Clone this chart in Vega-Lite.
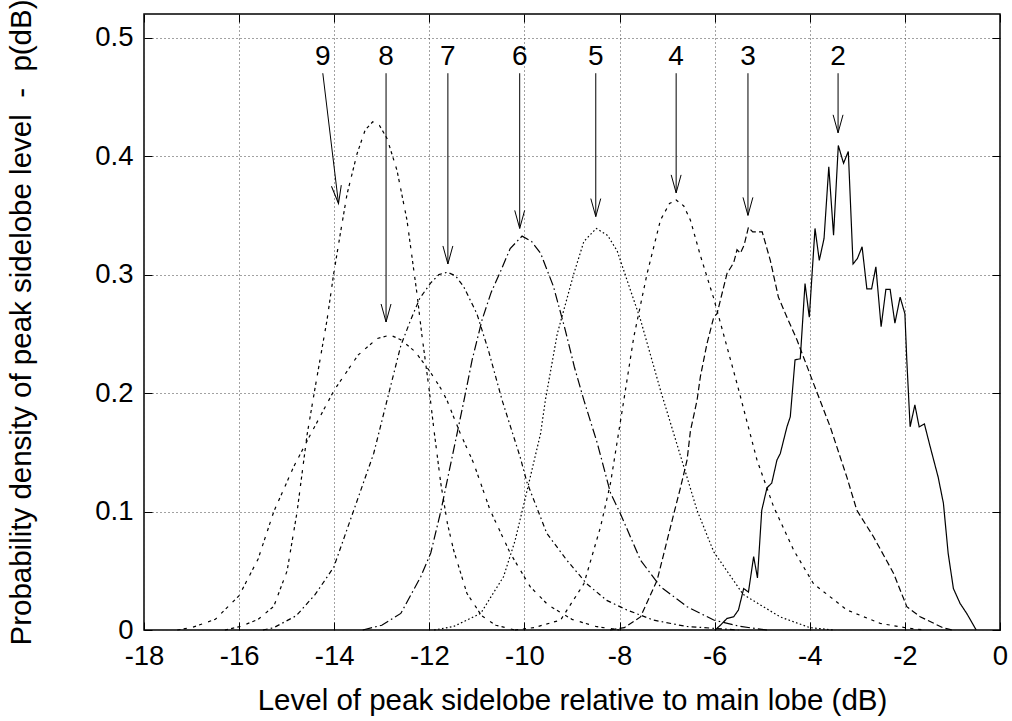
{
  "$schema": "https://vega.github.io/schema/vega-lite/v6.json",
  "autosize": "none",
  "width": 856,
  "height": 616,
  "padding": {"top": 14, "left": 144, "right": 12, "bottom": 91},
  "background": "white",
  "config": {
    "view": {"stroke": "black", "strokeWidth": 1.5},
    "font": "Liberation Sans",
    "axis": {
      "labelFont": "Liberation Sans",
      "labelFontSize": 27.5,
      "labelColor": "black",
      "labelFlush": false,
      "titleFont": "Liberation Sans",
      "titleFontSize": 29.5,
      "titleFontWeight": "normal",
      "titleColor": "black",
      "domain": false,
      "tickColor": "black",
      "tickSize": -8,
      "tickWidth": 1,
      "gridColor": "#444",
      "gridDash": [1, 3],
      "gridWidth": 1
    }
  },
  "datasets": {
    "curves": [
      {"c": "9", "x": -16.3, "y": 0}, {"c": "9", "x": -15.97, "y": 0.003}, {"c": "9", "x": -15.6, "y": 0.009}, {"c": "9", "x": -15.27, "y": 0.02}, {"c": "9", "x": -14.99, "y": 0.05}, {"c": "9", "x": -14.78, "y": 0.1}, {"c": "9", "x": -14.57, "y": 0.165}, {"c": "9", "x": -14.4, "y": 0.205}, {"c": "9", "x": -14.15, "y": 0.262}, {"c": "9", "x": -14.01, "y": 0.301}, {"c": "9", "x": -13.87, "y": 0.335}, {"c": "9", "x": -13.73, "y": 0.368}, {"c": "9", "x": -13.52, "y": 0.402}, {"c": "9", "x": -13.35, "y": 0.422}, {"c": "9", "x": -13.19, "y": 0.429}, {"c": "9", "x": -13.05, "y": 0.426}, {"c": "9", "x": -12.89, "y": 0.415}, {"c": "9", "x": -12.68, "y": 0.388}, {"c": "9", "x": -12.47, "y": 0.346}, {"c": "9", "x": -12.26, "y": 0.284}, {"c": "9", "x": -12.16, "y": 0.25}, {"c": "9", "x": -12.01, "y": 0.205}, {"c": "9", "x": -11.9, "y": 0.168}, {"c": "9", "x": -11.76, "y": 0.124}, {"c": "9", "x": -11.62, "y": 0.09}, {"c": "9", "x": -11.49, "y": 0.0675}, {"c": "9", "x": -11.21, "y": 0.031}, {"c": "9", "x": -10.9, "y": 0.012}, {"c": "9", "x": -10.6, "y": 0.004}, {"c": "9", "x": -10.2, "y": 0},

      {"c": "8", "x": -17.3, "y": 0}, {"c": "8", "x": -17.0, "y": 0.002}, {"c": "8", "x": -16.5, "y": 0.009}, {"c": "8", "x": -16.0, "y": 0.029}, {"c": "8", "x": -15.6, "y": 0.06}, {"c": "8", "x": -15.27, "y": 0.1}, {"c": "8", "x": -14.85, "y": 0.138}, {"c": "8", "x": -14.5, "y": 0.165}, {"c": "8", "x": -14.0, "y": 0.2025}, {"c": "8", "x": -13.5, "y": 0.232}, {"c": "8", "x": -13.1, "y": 0.246}, {"c": "8", "x": -12.82, "y": 0.249}, {"c": "8", "x": -12.6, "y": 0.245}, {"c": "8", "x": -12.3, "y": 0.235}, {"c": "8", "x": -12.0, "y": 0.219}, {"c": "8", "x": -11.76, "y": 0.204}, {"c": "8", "x": -11.63, "y": 0.194}, {"c": "8", "x": -11.35, "y": 0.166}, {"c": "8", "x": -11.07, "y": 0.141}, {"c": "8", "x": -10.72, "y": 0.101}, {"c": "8", "x": -10.3, "y": 0.065}, {"c": "8", "x": -9.88, "y": 0.0366}, {"c": "8", "x": -9.5, "y": 0.021}, {"c": "8", "x": -9.0, "y": 0.009}, {"c": "8", "x": -8.5, "y": 0.003}, {"c": "8", "x": -8.0, "y": 0},

      {"c": "7", "x": -15.5, "y": 0}, {"c": "7", "x": -15.27, "y": 0.002}, {"c": "7", "x": -14.8, "y": 0.012}, {"c": "7", "x": -14.4, "y": 0.03}, {"c": "7", "x": -14.01, "y": 0.053}, {"c": "7", "x": -13.59, "y": 0.101}, {"c": "7", "x": -13.17, "y": 0.149}, {"c": "7", "x": -12.82, "y": 0.205}, {"c": "7", "x": -12.6, "y": 0.24}, {"c": "7", "x": -12.39, "y": 0.262}, {"c": "7", "x": -12.2, "y": 0.28}, {"c": "7", "x": -11.97, "y": 0.293}, {"c": "7", "x": -11.8, "y": 0.3}, {"c": "7", "x": -11.62, "y": 0.302}, {"c": "7", "x": -11.45, "y": 0.299}, {"c": "7", "x": -11.28, "y": 0.29}, {"c": "7", "x": -11.0, "y": 0.267}, {"c": "7", "x": -10.75, "y": 0.235}, {"c": "7", "x": -10.47, "y": 0.194}, {"c": "7", "x": -10.09, "y": 0.146}, {"c": "7", "x": -9.95, "y": 0.125}, {"c": "7", "x": -9.53, "y": 0.0816}, {"c": "7", "x": -9.11, "y": 0.059}, {"c": "7", "x": -8.69, "y": 0.039}, {"c": "7", "x": -8.27, "y": 0.025}, {"c": "7", "x": -7.85, "y": 0.017}, {"c": "7", "x": -7.29, "y": 0.0084}, {"c": "7", "x": -6.6, "y": 0.003}, {"c": "7", "x": -5.5, "y": 0},

      {"c": "6", "x": -13.4, "y": 0}, {"c": "6", "x": -13.0, "y": 0.004}, {"c": "6", "x": -12.6, "y": 0.014}, {"c": "6", "x": -12.18, "y": 0.045}, {"c": "6", "x": -11.97, "y": 0.065}, {"c": "6", "x": -11.76, "y": 0.1}, {"c": "6", "x": -11.5, "y": 0.15}, {"c": "6", "x": -11.27, "y": 0.194}, {"c": "6", "x": -11.1, "y": 0.228}, {"c": "6", "x": -10.89, "y": 0.262}, {"c": "6", "x": -10.7, "y": 0.285}, {"c": "6", "x": -10.5, "y": 0.303}, {"c": "6", "x": -10.3, "y": 0.322}, {"c": "6", "x": -10.05, "y": 0.3325}, {"c": "6", "x": -9.85, "y": 0.328}, {"c": "6", "x": -9.66, "y": 0.318}, {"c": "6", "x": -9.39, "y": 0.29}, {"c": "6", "x": -9.14, "y": 0.253}, {"c": "6", "x": -8.95, "y": 0.222}, {"c": "6", "x": -8.75, "y": 0.194}, {"c": "6", "x": -8.47, "y": 0.158}, {"c": "6", "x": -8.19, "y": 0.1156}, {"c": "6", "x": -7.98, "y": 0.098}, {"c": "6", "x": -7.56, "y": 0.059}, {"c": "6", "x": -7.14, "y": 0.0366}, {"c": "6", "x": -6.58, "y": 0.0197}, {"c": "6", "x": -6.02, "y": 0.0084}, {"c": "6", "x": -5.46, "y": 0.003}, {"c": "6", "x": -4.9, "y": 0},

      {"c": "5", "x": -11.9, "y": 0}, {"c": "5", "x": -11.49, "y": 0.003}, {"c": "5", "x": -10.92, "y": 0.014}, {"c": "5", "x": -10.44, "y": 0.045}, {"c": "5", "x": -10.2, "y": 0.075}, {"c": "5", "x": -10.02, "y": 0.105}, {"c": "5", "x": -9.66, "y": 0.166}, {"c": "5", "x": -9.56, "y": 0.194}, {"c": "5", "x": -9.31, "y": 0.25}, {"c": "5", "x": -8.96, "y": 0.301}, {"c": "5", "x": -8.75, "y": 0.328}, {"c": "5", "x": -8.49, "y": 0.339}, {"c": "5", "x": -8.25, "y": 0.333}, {"c": "5", "x": -8.05, "y": 0.32}, {"c": "5", "x": -7.84, "y": 0.295}, {"c": "5", "x": -7.56, "y": 0.262}, {"c": "5", "x": -7.14, "y": 0.2025}, {"c": "5", "x": -6.65, "y": 0.138}, {"c": "5", "x": -6.37, "y": 0.101}, {"c": "5", "x": -6.02, "y": 0.066}, {"c": "5", "x": -5.4, "y": 0.03}, {"c": "5", "x": -4.62, "y": 0.011}, {"c": "5", "x": -4.0, "y": 0.002}, {"c": "5", "x": -3.5, "y": 0},

      {"c": "4", "x": -10.2, "y": 0}, {"c": "4", "x": -9.8, "y": 0.002}, {"c": "4", "x": -9.24, "y": 0.0084}, {"c": "4", "x": -8.75, "y": 0.039}, {"c": "4", "x": -8.4, "y": 0.087}, {"c": "4", "x": -8.19, "y": 0.124}, {"c": "4", "x": -7.91, "y": 0.194}, {"c": "4", "x": -7.7, "y": 0.2475}, {"c": "4", "x": -7.42, "y": 0.301}, {"c": "4", "x": -7.14, "y": 0.346}, {"c": "4", "x": -6.95, "y": 0.36}, {"c": "4", "x": -6.81, "y": 0.363}, {"c": "4", "x": -6.65, "y": 0.358}, {"c": "4", "x": -6.51, "y": 0.346}, {"c": "4", "x": -6.3, "y": 0.316}, {"c": "4", "x": -6.02, "y": 0.28}, {"c": "4", "x": -5.53, "y": 0.208}, {"c": "4", "x": -5.11, "y": 0.1435}, {"c": "4", "x": -4.76, "y": 0.104}, {"c": "4", "x": -4.34, "y": 0.0675}, {"c": "4", "x": -3.92, "y": 0.039}, {"c": "4", "x": -3.22, "y": 0.0169}, {"c": "4", "x": -2.52, "y": 0.0056}, {"c": "4", "x": -1.96, "y": 0.0017}, {"c": "4", "x": -1.6, "y": 0},

      {"c": "3", "x": -8.2, "y": 0}, {"c": "3", "x": -7.9, "y": 0.002}, {"c": "3", "x": -7.56, "y": 0.011}, {"c": "3", "x": -7.21, "y": 0.042}, {"c": "3", "x": -6.86, "y": 0.098}, {"c": "3", "x": -6.72, "y": 0.12}, {"c": "3", "x": -6.58, "y": 0.1435}, {"c": "3", "x": -6.51, "y": 0.168}, {"c": "3", "x": -6.37, "y": 0.194}, {"c": "3", "x": -6.3, "y": 0.214}, {"c": "3", "x": -6.16, "y": 0.242}, {"c": "3", "x": -6.02, "y": 0.264}, {"c": "3", "x": -5.95, "y": 0.267}, {"c": "3", "x": -5.74, "y": 0.301}, {"c": "3", "x": -5.6, "y": 0.31}, {"c": "3", "x": -5.53, "y": 0.321}, {"c": "3", "x": -5.46, "y": 0.318}, {"c": "3", "x": -5.38, "y": 0.325}, {"c": "3", "x": -5.29, "y": 0.34}, {"c": "3", "x": -5.2, "y": 0.336}, {"c": "3", "x": -5.0, "y": 0.336}, {"c": "3", "x": -4.83, "y": 0.312}, {"c": "3", "x": -4.66, "y": 0.281}, {"c": "3", "x": -4.48, "y": 0.264}, {"c": "3", "x": -4.27, "y": 0.245}, {"c": "3", "x": -3.92, "y": 0.208}, {"c": "3", "x": -3.57, "y": 0.1715}, {"c": "3", "x": -3.22, "y": 0.129}, {"c": "3", "x": -3.01, "y": 0.101}, {"c": "3", "x": -2.66, "y": 0.0787}, {"c": "3", "x": -2.24, "y": 0.048}, {"c": "3", "x": -1.96, "y": 0.0197}, {"c": "3", "x": -1.68, "y": 0.0112}, {"c": "3", "x": -1.19, "y": 0.0017}, {"c": "3", "x": -1.0, "y": 0},

      {"c": "2", "x": -5.99, "y": 0}, {"c": "2", "x": -5.88, "y": 0.004}, {"c": "2", "x": -5.74, "y": 0.0098}, {"c": "2", "x": -5.6, "y": 0.0112}, {"c": "2", "x": -5.5, "y": 0.0169}, {"c": "2", "x": -5.39, "y": 0.035}, {"c": "2", "x": -5.29, "y": 0.032}, {"c": "2", "x": -5.18, "y": 0.062}, {"c": "2", "x": -5.1, "y": 0.044}, {"c": "2", "x": -5.01, "y": 0.101}, {"c": "2", "x": -4.9, "y": 0.12}, {"c": "2", "x": -4.8, "y": 0.124}, {"c": "2", "x": -4.69, "y": 0.1435}, {"c": "2", "x": -4.62, "y": 0.149}, {"c": "2", "x": -4.48, "y": 0.1715}, {"c": "2", "x": -4.41, "y": 0.18}, {"c": "2", "x": -4.31, "y": 0.228}, {"c": "2", "x": -4.2, "y": 0.229}, {"c": "2", "x": -4.1, "y": 0.2925}, {"c": "2", "x": -4.01, "y": 0.264}, {"c": "2", "x": -3.89, "y": 0.339}, {"c": "2", "x": -3.8, "y": 0.312}, {"c": "2", "x": -3.7, "y": 0.3305}, {"c": "2", "x": -3.6, "y": 0.391}, {"c": "2", "x": -3.5, "y": 0.3333}, {"c": "2", "x": -3.4, "y": 0.409}, {"c": "2", "x": -3.29, "y": 0.394}, {"c": "2", "x": -3.19, "y": 0.404}, {"c": "2", "x": -3.09, "y": 0.309}, {"c": "2", "x": -3.0, "y": 0.3135}, {"c": "2", "x": -2.9, "y": 0.3235}, {"c": "2", "x": -2.8, "y": 0.288}, {"c": "2", "x": -2.7, "y": 0.288}, {"c": "2", "x": -2.61, "y": 0.3066}, {"c": "2", "x": -2.5, "y": 0.256}, {"c": "2", "x": -2.4, "y": 0.2875}, {"c": "2", "x": -2.31, "y": 0.2875}, {"c": "2", "x": -2.21, "y": 0.259}, {"c": "2", "x": -2.1, "y": 0.281}, {"c": "2", "x": -2.0, "y": 0.267}, {"c": "2", "x": -1.96, "y": 0.228}, {"c": "2", "x": -1.89, "y": 0.1715}, {"c": "2", "x": -1.79, "y": 0.19}, {"c": "2", "x": -1.7, "y": 0.1715}, {"c": "2", "x": -1.59, "y": 0.174}, {"c": "2", "x": -1.47, "y": 0.155}, {"c": "2", "x": -1.3, "y": 0.129}, {"c": "2", "x": -1.19, "y": 0.107}, {"c": "2", "x": -1.09, "y": 0.0647}, {"c": "2", "x": -0.98, "y": 0.035}, {"c": "2", "x": -0.84, "y": 0.0225}, {"c": "2", "x": -0.7, "y": 0.014}, {"c": "2", "x": -0.5, "y": 0}
    ],
    "arrows": [
      {"n": "9", "x": -14.24, "ys": 0.47, "ly": 0.4768, "xe": -13.91, "ye": 0.36},
      {"n": "8", "x": -12.91, "ys": 0.47, "ly": 0.4768, "xe": -12.91, "ye": 0.26},
      {"n": "7", "x": -11.61, "ys": 0.47, "ly": 0.4768, "xe": -11.61, "ye": 0.309},
      {"n": "6", "x": -10.1, "ys": 0.47, "ly": 0.4768, "xe": -10.1, "ye": 0.339},
      {"n": "5", "x": -8.5, "ys": 0.47, "ly": 0.4768, "xe": -8.5, "ye": 0.349},
      {"n": "4", "x": -6.81, "ys": 0.47, "ly": 0.4768, "xe": -6.81, "ye": 0.369},
      {"n": "3", "x": -5.3, "ys": 0.47, "ly": 0.4768, "xe": -5.3, "ye": 0.35},
      {"n": "2", "x": -3.405, "ys": 0.47, "ly": 0.4768, "xe": -3.405, "ye": 0.4197}
    ]
  },
  "layer": [
    {
      "data": {"name": "curves"},
      "mark": {"type": "line", "color": "black", "strokeWidth": 1.2},
      "encoding": {
        "x": {
          "field": "x", "type": "quantitative",
          "scale": {"domain": [-18, 0], "nice": false, "zero": false},
          "axis": {
            "orient": "bottom",
            "values": [-18, -16, -14, -12, -10, -8, -6, -4, -2, 0],
            "format": "d",
            "labelExpr": "replace(datum.label, '\u2212', '-')",
            "labelPadding": 20,
            "grid": true,
            "title": "Level of peak sidelobe relative to main lobe (dB)",
            "titlePadding": 17
          }
        },
        "y": {
          "field": "y", "type": "quantitative",
          "scale": {"domain": [0, 0.52], "nice": false},
          "axis": {
            "orient": "left",
            "values": [0, 0.1, 0.2, 0.3, 0.4, 0.5],
            "format": ".1~f",
            "labelPadding": 19,
            "grid": true,
            "title": "Probability density of peak sidelobe level\u00a0\u00a0-\u00a0\u00a0p(dB)",
            "titlePadding": 58
          }
        },
        "strokeDash": {
          "field": "c", "type": "nominal", "legend": null,
          "scale": {
            "domain": ["2", "3", "4", "5", "6", "7", "8", "9"],
            "range": [[1, 0], [6.4, 3.2], [3.2, 4.8], [1.6, 2.4], [9.6, 3.2, 1.6, 3.2], [4.8, 3.2, 1.6, 3.2], [3.2, 3.2, 3.2, 6.4], [3.2, 3.2, 3.2, 3.2, 3.2, 6.4]]
          }
        }
      }
    },
    {
      "data": {"name": "arrows"},
      "mark": {"type": "rule", "color": "black", "strokeWidth": 1},
      "encoding": {
        "x": {
          "field": "x", "type": "quantitative",
          "axis": {"orient": "top", "values": [-18, -16, -14, -12, -10, -8, -6, -4, -2, 0], "labels": false, "grid": false, "title": null}
        },
        "y": {
          "field": "ys", "type": "quantitative",
          "axis": {"orient": "right", "values": [0, 0.1, 0.2, 0.3, 0.4, 0.5], "labels": false, "grid": false, "title": null}
        },
        "x2": {"field": "xe"},
        "y2": {"field": "ye"}
      }
    },
    {
      "data": {"name": "arrows"},
      "transform": [{"filter": "datum.n !== '9'"}],
      "mark": {"type": "point", "shape": "M-0.55,-2L0,0L0.55,-2", "size": 324, "filled": false, "stroke": "black", "strokeWidth": 1, "opacity": 1},
      "encoding": {
        "x": {"field": "xe", "type": "quantitative", "axis": null},
        "y": {"field": "ye", "type": "quantitative", "axis": null}
      }
    },
    {
      "data": {"name": "arrows"},
      "transform": [{"filter": "datum.n === '9'"}],
      "mark": {"type": "point", "shape": "M-0.55,-2L0,0L0.55,-2", "size": 324, "filled": false, "stroke": "black", "strokeWidth": 1, "opacity": 1, "angle": 353.2},
      "encoding": {
        "x": {"field": "xe", "type": "quantitative", "axis": null},
        "y": {"field": "ye", "type": "quantitative", "axis": null}
      }
    },
    {
      "data": {"name": "arrows"},
      "mark": {"type": "text", "font": "Liberation Sans", "fontSize": 28, "color": "black", "align": "center", "baseline": "alphabetic"},
      "encoding": {
        "x": {"field": "x", "type": "quantitative", "axis": null},
        "y": {"field": "ly", "type": "quantitative", "axis": null},
        "text": {"field": "n"}
      }
    }
  ],
  "resolve": {"axis": {"x": "independent", "y": "independent"}}
}
